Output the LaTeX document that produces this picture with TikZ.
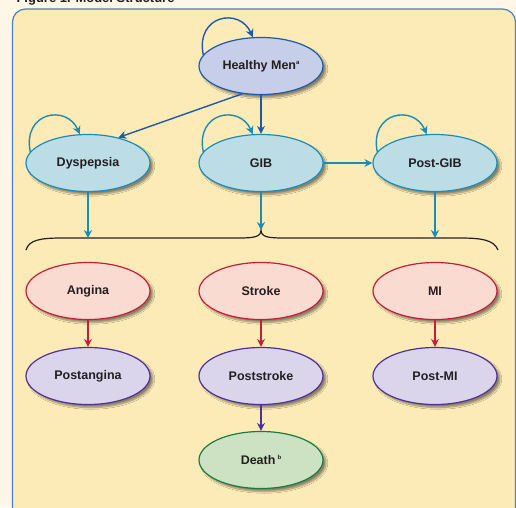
\documentclass[tikz,border=0pt]{standalone}
\usepackage{fontspec}
\setsansfont{Liberation Sans}
\usetikzlibrary{shapes.geometric,arrows.meta,shadows.blur}

\definecolor{bgcream}{HTML}{FEF6E7}
\definecolor{panelfill}{HTML}{FDEBB7}
\definecolor{panelline}{HTML}{4A80C6}
\definecolor{txt}{HTML}{231F20}
\definecolor{hmfill}{HTML}{C6CEE9}
\definecolor{hmline}{HTML}{1E5AA8}
\definecolor{gifill}{HTML}{BCDCE6}
\definecolor{giline}{HTML}{1B8DB5}
\definecolor{cvfill}{HTML}{FADBD2}
\definecolor{cvline}{HTML}{C41E3A}
\definecolor{pofill}{HTML}{DAD5EB}
\definecolor{poline}{HTML}{4E2F9C}
\definecolor{dfill}{HTML}{CCE2C3}
\definecolor{dline}{HTML}{1B7B3E}

\tikzset{
  state/.style={ellipse,draw,line width=1.2pt,minimum width=124pt,minimum height=57pt,
    inner sep=0pt,text=txt,font=\sffamily\bfseries\fontsize{12.5}{14}\selectfont,
    blur shadow={shadow xshift=3pt,shadow yshift=-3pt,shadow opacity=45,shadow blur steps=8}},
  healthy/.style={state,fill=hmfill,draw=hmline},
  gistate/.style={state,fill=gifill,draw=giline},
  cvstate/.style={state,fill=cvfill,draw=cvline},
  poststate/.style={state,fill=pofill,draw=poline},
  deathstate/.style={state,fill=dfill,draw=dline},
  arr/.style={-{Stealth[length=8pt,width=8pt]},line width=1.4pt}
}
\newcommand{\supmark}[1]{\raisebox{5pt}{\fontsize{6}{6}\selectfont #1}}

\begin{document}
\begin{tikzpicture}[x=1pt,y=-1pt]
            \useasboundingbox (0,0) rectangle (516,507);
            \clip (0,0) rectangle (516,507);
            \fill[bgcream] (0,0) rectangle (516,507);
            \draw[panelline,fill=panelfill,line width=1.2pt,rounded corners=13pt]
              (12.5,9) rectangle (515.5,520);
            \node[anchor=base west,text=txt,font=\sffamily\bfseries\fontsize{13}{15}\selectfont]
              (title) at (13,2.5) {Figure 1. Model Structure};

            \draw (261,66) node[healthy] (HM) {Healthy Men\supmark{a}};
            \draw (88,163) node[gistate] (Dys) {Dyspepsia};
            \draw (261,163) node[gistate] (GIB) {GIB};
            \draw (435,163) node[gistate] (PGIB) {Post-GIB};
            \draw (88,291) node[cvstate] (Ang) {Angina};
            \draw (261,291) node[cvstate] (Str) {Stroke};
            \draw (435,291) node[cvstate] (MI) {MI};
            \draw (88,376) node[poststate] (PAng) {Postangina};
            \draw (261,376) node[poststate] (PStr) {Poststroke};
            \draw (435,376) node[poststate] (PMI) {Post-MI};
            \draw (261,460) node[deathstate] (Death) {Death\,\supmark{b}};

            % staying in the same state
            \draw[arr,hmline] (HM.169) .. controls +(-8,-40) and +(-13,-30) .. (HM.106);
            \draw[arr,giline] (Dys.169) .. controls +(-8,-40) and +(-13,-30) .. (Dys.106);
            \draw[arr,giline] (GIB.169) .. controls +(-8,-40) and +(-13,-30) .. (GIB.106);
            \draw[arr,giline] (PGIB.169) .. controls +(-8,-40) and +(-13,-30) .. (PGIB.106);

            \draw[arr,hmline] (HM.236)--(Dys.40);
            \draw[arr,hmline] (HM)--(GIB);
            \draw[arr,giline] (GIB)--(PGIB);

            % brace to the cardiovascular events
            \coordinate (bl) at (88,238);
            \coordinate (bm) at (261,230);
            \coordinate (br) at (435,238);
            \draw[line width=1.2pt,txt] (26,250) .. controls (29,240) and (40,238) .. (62,238)
              -- (238,238) .. controls (254,238) and (261,237) .. (bm)
              .. controls (261,237) and (268,238) .. (284,238)
              -- (460,238) .. controls (482,238) and (494,240) .. (498,250);
            \draw[arr,giline] (Dys)--(bl);
            \draw[arr,giline] (GIB)--(bm);
            \draw[arr,giline] (PGIB)--(br);

            \draw[arr,cvline] (Ang)--(PAng);
            \draw[arr,cvline] (Str)--(PStr);
            \draw[arr,cvline] (MI)--(PMI);
            \draw[arr,poline] (PStr)--(Death);
            \end{tikzpicture}
\end{document}
